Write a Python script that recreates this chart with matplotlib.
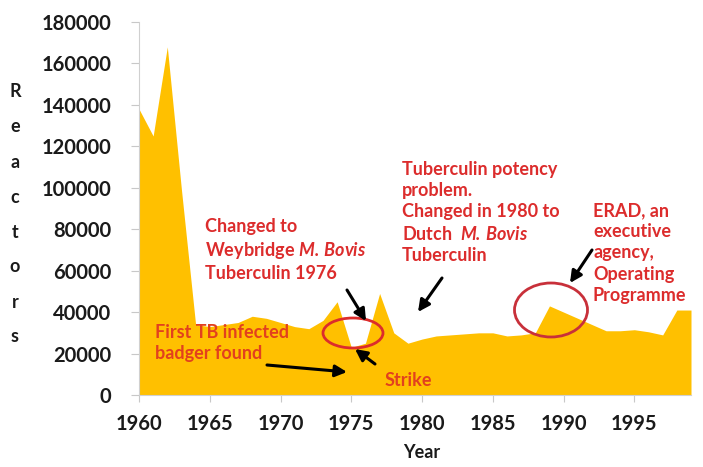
import matplotlib
matplotlib.use("Agg")
import matplotlib.pyplot as plt
from matplotlib.patches import Ellipse

plt.rcParams['font.family'] = ['Lato', 'DejaVu Sans']
plt.rcParams['mathtext.fontset'] = 'custom'
plt.rcParams['mathtext.bfit'] = 'Lato:italic:bold'
plt.rcParams['mathtext.it'] = 'Lato:italic:bold'
plt.rcParams['mathtext.rm'] = 'Lato:bold'

years = list(range(1960, 2000))
reactors = [138000, 125000, 168000, 99000, 34000, 33000, 34000, 35000, 38000, 37000,
            35000, 33000, 32000, 36000, 45000, 23000, 25000, 49000, 30000, 25000,
            27000, 28500, 29000, 29500, 30000, 30000, 28500, 29000, 30000, 43000,
            40000, 37000, 34000, 31000, 31000, 31500, 30500, 29000, 41000, 41000]
xticks = [1960, 1965, 1970, 1975, 1980, 1985, 1990, 1995]
yticks = [0, 20000, 40000, 60000, 80000, 100000, 120000, 140000, 160000, 180000]

W, H = 703, 467
fig = plt.figure(figsize=(W / 100, H / 100), dpi=100)
L, R, T, B = 139, 691, 22, 395
ax = fig.add_axes([L / W, (H - B) / H, (R - L) / W, (B - T) / H])

ax.fill_between(years, reactors, 0, color='#FFC000', linewidth=0)
ax.set_xlim(1960, 1999)
ax.set_ylim(0, 180000)
ax.set_xticks(xticks)
ax.set_xticklabels([str(x) for x in xticks])
ax.set_yticks(yticks)
ax.set_yticklabels([str(y) for y in yticks])
for s in ['top', 'right']:
    ax.spines[s].set_visible(False)
for s in ['left', 'bottom']:
    ax.spines[s].set_color('#d0d0d0')
    ax.spines[s].set_linewidth(0.8)
ax.tick_params(axis='y', length=6, color='#c8c8c8', pad=14, labelsize=14.5)
ax.tick_params(axis='x', length=5, color='#c8c8c8', pad=9, labelsize=14.5)
for lab in ax.get_xticklabels() + ax.get_yticklabels():
    lab.set_fontweight('bold')
    lab.set_color('#1a1a1a')

def px(x, y):
    return 1960 + (x - L) * 39 / (R - L), (B - y) * 180000 / (B - T)

red = '#DC2C2C'
red2 = '#E2401E'
fs = 13
ls = 1.3

ax.text(*px(205, 218), "Changed to\nWeybridge $\\mathbfit{M.\\,Bovis}$\nTuberculin 1976",
        color=red, fontsize=fs, fontweight='bold', va='top', ha='left', linespacing=ls)
ax.text(*px(402, 161), "Tuberculin potency\nproblem.\nChanged in 1980 to\nDutch  $\\mathbfit{M.\\,Bovis}$\nTuberculin",
        color=red, fontsize=fs, fontweight='bold', va='top', ha='left', linespacing=ls)
ax.text(*px(593, 202), "ERAD, an\nexecutive\nagency,\nOperating\nProgramme",
        color=red, fontsize=fs, fontweight='bold', va='top', ha='left', linespacing=ls)
ax.text(*px(155, 324), "First TB infected\nbadger found",
        color=red2, fontsize=fs, fontweight='bold', va='top', ha='left', linespacing=ls)
ax.text(*px(385, 380), "Strike",
        color=red2, fontsize=fs, fontweight='bold', va='center', ha='left')

arrows = [((267, 365), (347, 372)),
          ((347, 290), (366, 321)),
          ((375, 364), (355, 349)),
          ((442, 278), (418, 312)),
          ((592, 250), (570, 283))]
for (x0, y0), (x1, y1) in arrows:
    ax.annotate('', xy=px(x1, y1), xytext=px(x0, y0),
                arrowprops=dict(arrowstyle='-|>,head_length=0.7,head_width=0.35',
                                color='black', lw=2.2, shrinkA=0, shrinkB=0))

sx = 39 / (R - L)
sy = 180000 / (B - T)
c1 = px(353, 333)
ax.add_patch(Ellipse(c1, 60 * sx, 30 * sy, fill=False, edgecolor=red, lw=2))
c2 = px(551, 310)
ax.add_patch(Ellipse(c2, 73 * sx, 54 * sy, fill=False, edgecolor='#C8303A', lw=2))

for i, ch in enumerate("Reactors"):
    fig.text(15 / W, 1 - (92 + i * 35) / H, ch, fontsize=13, fontweight='bold',
             ha='center', va='center', color='#1a1a1a')
fig.text(422 / W, 1 - 452 / H, "Year", fontsize=13, fontweight='bold',
         ha='center', va='center', color='#1a1a1a')

fig.savefig('out.png', dpi=100)
